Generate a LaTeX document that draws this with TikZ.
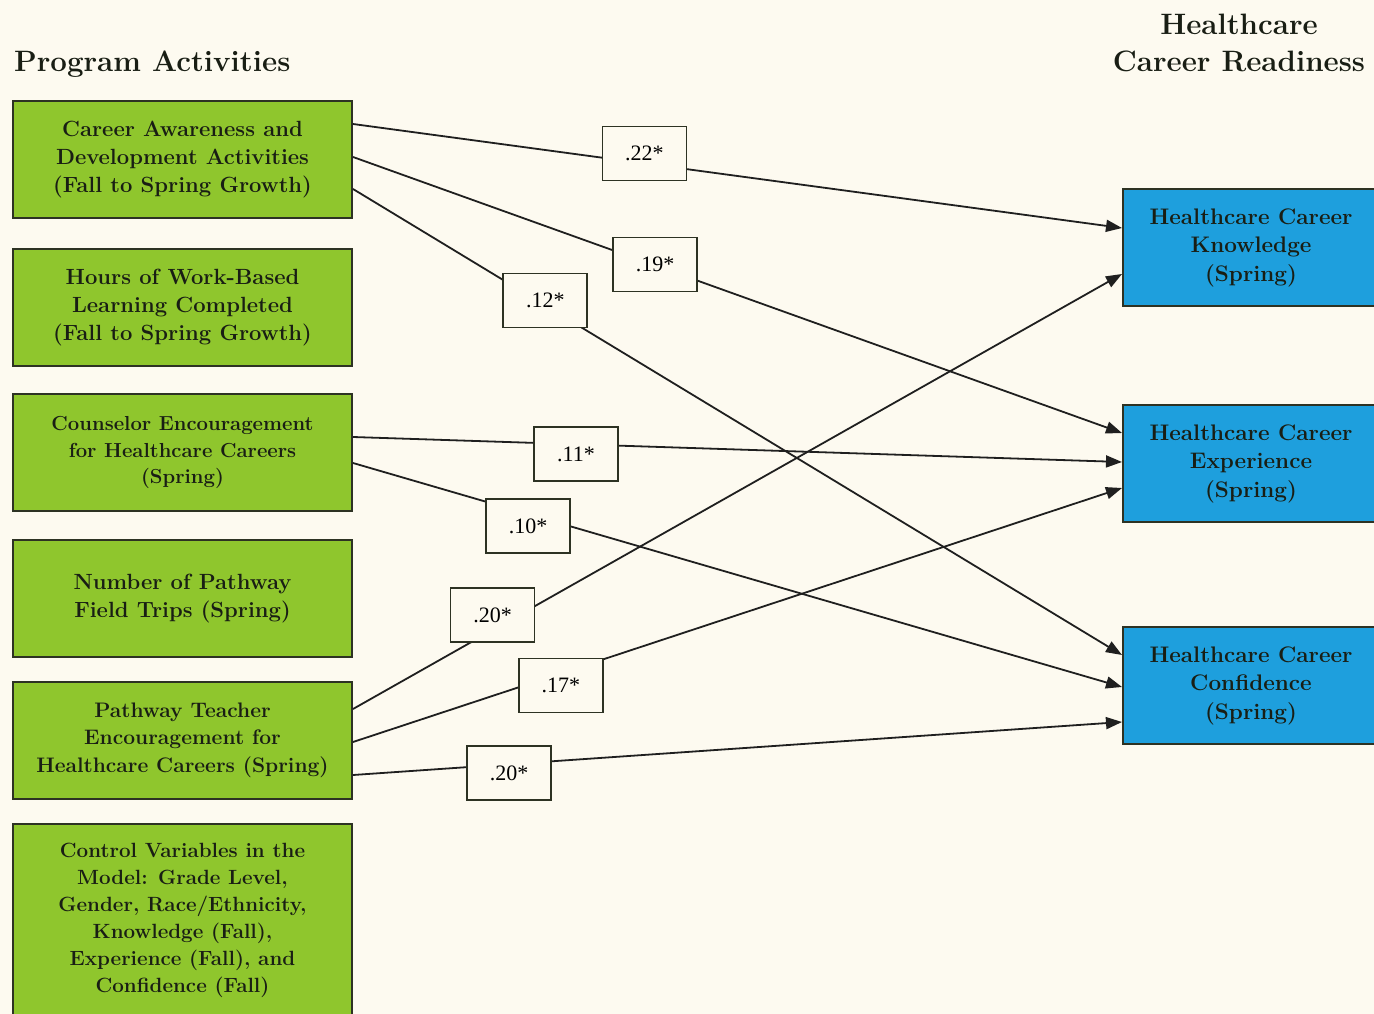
\documentclass[tikz,border=0pt]{standalone}
\usetikzlibrary{arrows.meta}
\usepackage{fontspec}
\newfontfamily\lblfont{Liberation Serif}
\newcommand\fsz[2]{\fontsize{#1}{#2}\selectfont}
\definecolor{bg}{RGB}{253,250,240}
\definecolor{gfill}{RGB}{143,198,45}
\definecolor{bfill}{RGB}{30,159,221}
\definecolor{txt}{RGB}{25,30,20}
\definecolor{edge}{RGB}{45,50,35}
\tikzset{
  pa/.style={draw=edge, line width=2pt, fill=gfill, minimum width=339pt, minimum height=117pt,
    inner sep=0pt, align=center, text=txt},
  outc/.style={draw=edge, line width=2pt, fill=bfill, minimum width=256pt, minimum height=117pt,
    inner sep=0pt, align=center, text=txt, font=\bfseries\fsz{22.5}{28.5}},
  coef/.style={draw=edge, line width=1.6pt, fill=bg, minimum width=84pt, minimum height=54pt,
    inner sep=0pt, text=black, font=\lblfont\fsz{22}{26}},
  link/.style={line width=1.8pt, draw=black!88, -{Triangle[length=16pt,width=12pt]}},
  ttl/.style={inner sep=0pt, text=txt, align=center, font=\bfseries\fsz{29.5}{37}}
}
\begin{document}
\begin{tikzpicture}[x=1pt,y=-1pt]
\fill[bg] (0,0) rectangle (1374,1014);
\path[use as bounding box] (0,0) rectangle (1374,1014);
\clip (0,0) rectangle (1374,1014);

\node[ttl, anchor=base west] (t1) at (14,72) {Program Activities};
\node[ttl, anchor=north] (t2) at (1239,14) {Healthcare\\Career Readiness};

\node[pa, font=\bfseries\fsz{22}{28}] (L1) at (182.5,159.5) {Career Awareness and\\Development Activities\\(Fall to Spring Growth)};
\node[pa, font=\bfseries\fsz{22}{28}] (L2) at (182.5,307.5) {Hours of Work-Based\\Learning Completed\\(Fall to Spring Growth)};
\node[pa, font=\bfseries\fsz{20.3}{26.5}] (L3) at (182.5,452.5) {Counselor Encouragement\\for Healthcare Careers\\(Spring)};
\node[pa, font=\bfseries\fsz{22}{28}] (L4) at (182.5,598.5) {Number of Pathway\\Field Trips (Spring)};
\node[pa, font=\bfseries\fsz{21}{27.5}] (L5) at (182.5,740) {Pathway Teacher\\Encouragement for\\Healthcare Careers (Spring)};
\node[pa, minimum height=192pt, font=\bfseries\fsz{20.6}{27}] (L6) at (182.5,920) {Control Variables in the\\Model: Grade Level,\\Gender, Race/Ethnicity,\\Knowledge (Fall),\\Experience (Fall), and\\Confidence (Fall)};

\node[outc] (R1) at (1251,247.5) {Healthcare Career\\Knowledge\\(Spring)};
\node[outc] (R2) at (1251,463.5) {Healthcare Career\\Experience\\(Spring)};
\node[outc] (R3) at (1251,685.5) {Healthcare Career\\Confidence\\(Spring)};

\draw[link] ([yshift=35.5pt]L1.east) -- node[coef, pos=0.379, yshift=10pt] (k1) {.22*} ([yshift=19.5pt]R1.west);
\draw[link] ([yshift=2.5pt]L1.east) -- node[coef, pos=0.393, yshift=1pt] (k2) {.19*} ([yshift=30.5pt]R2.west);
\draw[link] ([yshift=-29.5pt]L1.east) -- node[coef, pos=0.25, yshift=5pt] (k3) {.12*} ([yshift=30.5pt]R3.west);
\draw[link] ([yshift=15.5pt]L3.east) -- node[coef, pos=0.29, yshift=-10pt] (k4) {.11*} ([yshift=1.5pt]R2.west);
\draw[link] ([yshift=-10.5pt]L3.east) -- node[coef, pos=0.2276, yshift=-12pt] (k5) {.10*} ([yshift=-1.5pt]R3.west);
\draw[link] ([yshift=31pt]L5.east) -- node[coef, pos=0.1816, yshift=15pt] (k6) {.20*} ([yshift=-26.5pt]R1.west);
\draw[link] ([yshift=-2pt]L5.east) -- node[coef, pos=0.2704, yshift=-12pt] (k7) {.17*} ([yshift=-24.5pt]R2.west);
\draw[link] ([yshift=-35pt]L5.east) -- node[coef, pos=0.203, yshift=-9pt] (k8) {.20*} ([yshift=-36.5pt]R3.west);
\end{tikzpicture}
\end{document}
